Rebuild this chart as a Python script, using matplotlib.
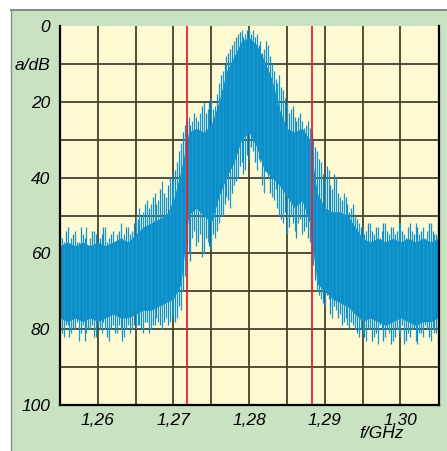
import numpy as np
import matplotlib
matplotlib.use("Agg")
import matplotlib.pyplot as plt
from matplotlib.patches import Rectangle

# --- data (f in GHz, level in dB below peak) ---
# solid core of the noise band, sampled every 1 MHz
core_f = np.round(np.arange(1.255, 1.30501, 0.001), 4)
core_top = [58, 57, 58, 57, 58, 57, 58, 57, 56, 57,
            55, 53, 52, 51, 50, 46, 38, 28, 27, 28,
            26, 20, 12, 8, 4, 3, 5, 9, 14, 22,
            27, 28, 27, 30, 44, 48, 49, 49, 50, 53,
            56, 57, 56, 57, 56, 57, 56, 57, 56, 57, 56]
core_bot = [77, 78, 77, 78, 77, 78, 77, 76, 77, 77,
            76, 75, 75, 74, 73, 72, 68, 50, 48, 50,
            52, 45, 40, 36, 30, 28, 32, 38, 40, 42,
            45, 48, 46, 52, 68, 70, 72, 73, 74, 76,
            78, 77, 78, 79, 78, 77, 78, 79, 78, 78, 77]

# spike extremes, sampled every 0.5 MHz
spike_f = np.round(np.arange(1.255, 1.30501, 0.0005), 5)
spike_top = [55, 57, 53, 56, 54, 57, 55, 53, 56, 54,
             57, 55, 53, 56, 54, 55, 52, 55, 53, 54,
             50, 48, 49, 46, 47, 44, 46, 41, 45, 40,
             41, 36, 31, 26, 24, 25, 24, 23, 20, 22,
             19, 21, 15, 12, 8, 6, 4, 2, 1, 2,
             0.5, 1, 2, 4, 6, 5, 10, 14, 13, 17,
             20, 22, 24, 24, 25, 26, 27, 30, 33, 36,
             40, 38, 43, 40, 45, 44, 47, 48, 50, 52,
             53, 54, 52, 55, 53, 54, 52, 55, 53, 54,
             52, 55, 53, 54, 52, 55, 53, 54, 52, 55, 53]
spike_bot = [80, 82, 79, 81, 80, 83, 79, 81, 80, 82,
             79, 81, 80, 83, 79, 81, 80, 82, 79, 80,
             80, 79, 81, 78, 80, 79, 78, 80, 77, 78,
             76, 77, 75, 66, 60, 56, 58, 55, 60, 57,
             59, 56, 52, 50, 45, 48, 42, 40, 36, 38,
             35, 33, 38, 36, 44, 40, 45, 43, 50, 52,
             55, 50, 54, 52, 55, 53, 57, 63, 70, 72,
             74, 72, 77, 75, 76, 78, 79, 78, 80, 82,
             81, 83, 80, 82, 84, 80, 82, 81, 83, 80,
             82, 84, 81, 80, 83, 81, 82, 80, 83, 81, 80]

# second set of spikes, in between the first (offset 0.25 MHz)
spike2_f = np.round(np.arange(1.25525, 1.305, 0.0005), 5)
spike2_top = [56, 54, 58, 55, 57, 53, 56, 58, 54, 55,
              56, 53, 57, 55, 58, 54, 56, 53, 55, 52,
              51, 50, 47, 48, 45, 47, 43, 44, 42, 39,
              38, 33, 28, 25, 26, 23, 25, 21, 23, 20,
              22, 18, 13, 10, 7, 5, 3, 1.5, 3, 1,
              2, 3, 5, 7, 4, 8, 12, 15, 16, 19,
              23, 21, 25, 23, 27, 25, 28, 32, 35, 39,
              37, 42, 39, 44, 46, 45, 49, 47, 51, 53,
              55, 52, 54, 53, 56, 52, 54, 53, 55, 52,
              54, 56, 52, 55, 53, 54, 56, 52, 54, 55]
spike2_bot = [81, 79, 82, 80, 78, 81, 83, 80, 79, 82,
              80, 78, 82, 80, 81, 79, 83, 80, 81, 79,
              79, 80, 78, 81, 79, 77, 79, 78, 79, 77,
              78, 74, 70, 58, 62, 54, 57, 61, 56, 58,
              55, 54, 50, 47, 46, 44, 41, 37, 39, 34,
              32, 36, 35, 42, 38, 44, 46, 48, 51, 49,
              53, 52, 56, 51, 54, 56, 60, 67, 71, 73,
              71, 76, 74, 77, 79, 77, 80, 79, 81, 80,
              82, 80, 83, 81, 79, 83, 80, 84, 82, 81,
              79, 83, 82, 80, 84, 81, 79, 82, 80, 81]

# channel limits (red markers)
marker_f = [1.2718, 1.2883]

x_ticks = [1.26, 1.27, 1.28, 1.29, 1.30]
x_grid = [1.26, 1.265, 1.27, 1.275, 1.28, 1.285, 1.29, 1.295, 1.30]
y_grid = [10, 20, 30, 40, 50, 60, 70, 80, 90]
y_ticks = [0, 10, 20, 40, 60, 80, 100]
y_labels = {0: "0", 10: "a/dB", 20: "20", 40: "40", 60: "60", 80: "80", 100: "100"}

# colours
green = "#c8e2c2"
yellow = "#fdf9d3"
blue = "#0a8fc8"
spike_blue = "#1c97cf"
red = "#e8202e"
grid_col = "#45412f"

W, H = 447, 451
fig = plt.figure(figsize=(W / 100, H / 100), dpi=100)
fig.patch.set_facecolor("white")

# green panel with grey edge at top and left
fig.patches.append(Rectangle((11 / W, 0), 1 - 11 / W, 1 - 10 / H, transform=fig.transFigure,
                             facecolor=green, edgecolor="none", zorder=-5))
fig.add_artist(plt.Line2D([11 / W, 1], [1 - 10 / H, 1 - 10 / H], color="#8c8c8c", lw=1.5, zorder=-4))
fig.add_artist(plt.Line2D([11 / W, 11 / W], [0, 1 - 10 / H], color="#8c8c8c", lw=1.0, zorder=-4))

ax = fig.add_axes([60 / W, 1 - 405 / H, 379 / W, 379 / H])
ax.set_zorder(2)
ax.set_facecolor(yellow)
ax.set_xlim(1.255, 1.3051)
ax.set_ylim(100, 0)

# grid every 5 MHz and 10 dB, drawn under the trace
for gx in x_grid:
    ax.axvline(gx, color=grid_col, lw=1.3, zorder=1)
for gy in y_grid:
    ax.axhline(gy, color=grid_col, lw=1.3, zorder=1)

# spectrum
ax.fill_between(core_f, core_top, core_bot, color=blue, lw=0, zorder=3)
ax.vlines(spike_f, spike_top, spike_bot, color=spike_blue, lw=0.9, zorder=4)
ax.vlines(spike2_f, spike2_top, spike2_bot, color=blue, lw=0.9, zorder=4)

for f in marker_f:
    ax.axvline(f, color=red, lw=1.3, zorder=5)

# axes styling
for s in ["left", "bottom", "right"]:
    ax.spines[s].set_linewidth(1.6)
    ax.spines[s].set_color("black")
    ax.spines[s].set_zorder(6)
ax.spines["top"].set_visible(False)

font = dict(family="Liberation Sans", style="italic", size=12.5)
ax.set_xticks(x_ticks)
ax.set_xticklabels([f"{v:.2f}".replace(".", ",") for v in x_ticks], fontdict=font)
ax.set_yticks(y_ticks)
ax.set_yticklabels([y_labels[v] for v in y_ticks], fontdict=font)
ax.tick_params(which="both", length=0)
ax.tick_params(axis="y", pad=7)
ax.tick_params(axis="x", pad=6)

ax.annotate("f/GHz", xy=(1.2975, -0.075), xycoords=("data", "axes fraction"),
            ha="center", va="center", fontfamily="Liberation Sans",
            fontstyle="italic", fontsize=12.5)

fig.savefig("out.png", dpi=100, facecolor=fig.get_facecolor())
